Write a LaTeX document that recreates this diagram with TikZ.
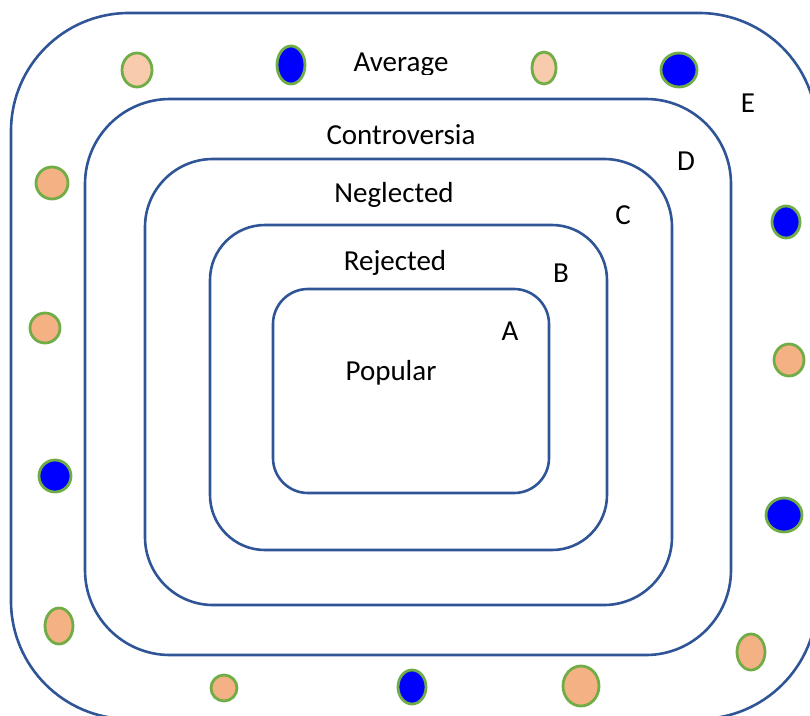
\documentclass[tikz,border=0pt]{standalone}
\usepackage{fontspec}
\setmainfont{Carlito}
\definecolor{ringblue}{HTML}{2F5597}
\definecolor{dotgreen}{HTML}{70AD47}
\definecolor{peach}{HTML}{F4B183}
\definecolor{lightpeach}{HTML}{F8CBAD}
\definecolor{dotblue}{HTML}{0000FF}
\begin{document}
\begin{tikzpicture}[x=1pt,y=-1pt,
  ring/.style={draw=ringblue,line width=2.6pt},
  dot/.style={draw=dotgreen,line width=2.8pt},
  lbl/.style={font=\fontsize{29}{34}\selectfont,inner sep=0pt}]
\useasboundingbox (0,0) rectangle (810,715);
\clip (0,0) rectangle (810,715);
% nested groups
\draw[ring,rounded corners=118pt] (11,13) rectangle (817,719);
\draw[ring,rounded corners=85pt] (85,99) rectangle (731,655);
\draw[ring,rounded corners=68pt] (145,159) rectangle (672,605);
\draw[ring,rounded corners=55pt] (210,225) rectangle (607,550);
\draw[ring,rounded corners=35pt] (273,289) rectangle (549,493);
% group names
\begin{scope}
\clip (330,35) rectangle (480,74);
\node[lbl] (average) at (401,65) {Average};
\end{scope}
\node[lbl] (controversia) at (401,135) {Controversia};
\node[lbl] (neglected) at (394,195) {Neglected};
\node[lbl] (rejected) at (395,263) {Rejected};
\node[lbl] (popular) at (391,373) {Popular};
\node[lbl] (la) at (510,331) {A};
\node[lbl] (lb) at (561,273) {B};
\node[lbl] (lc) at (623,215) {C};
\node[lbl] (ld) at (686,161) {D};
\node[lbl] (le) at (748,103) {E};
% members
\draw[dot,fill=lightpeach] (137,70) ellipse (15 and 17);
\draw[dot,fill=dotblue] (291,65) ellipse (14 and 19);
\draw[dot,fill=lightpeach] (544,68) ellipse (12 and 16);
\draw[dot,fill=dotblue] (679,70) ellipse (18 and 17);
\draw[dot,fill=peach] (52,183) ellipse (16 and 16);
\draw[dot,fill=peach] (45,328) ellipse (15 and 15);
\draw[dot,fill=dotblue] (55,476) ellipse (16 and 16);
\draw[dot,fill=peach] (59,626) ellipse (14 and 18);
\draw[dot,fill=peach] (224,688) ellipse (13 and 13);
\draw[dot,fill=dotblue] (412,687) ellipse (14 and 17);
\draw[dot,fill=peach] (581,686) ellipse (18 and 20);
\draw[dot,fill=peach] (751,652) ellipse (14 and 18);
\draw[dot,fill=dotblue] (786,222) ellipse (14 and 16);
\draw[dot,fill=peach] (789,360) ellipse (15 and 16);
\draw[dot,fill=dotblue] (784,515) ellipse (18 and 17);
\end{tikzpicture}
\end{document}
